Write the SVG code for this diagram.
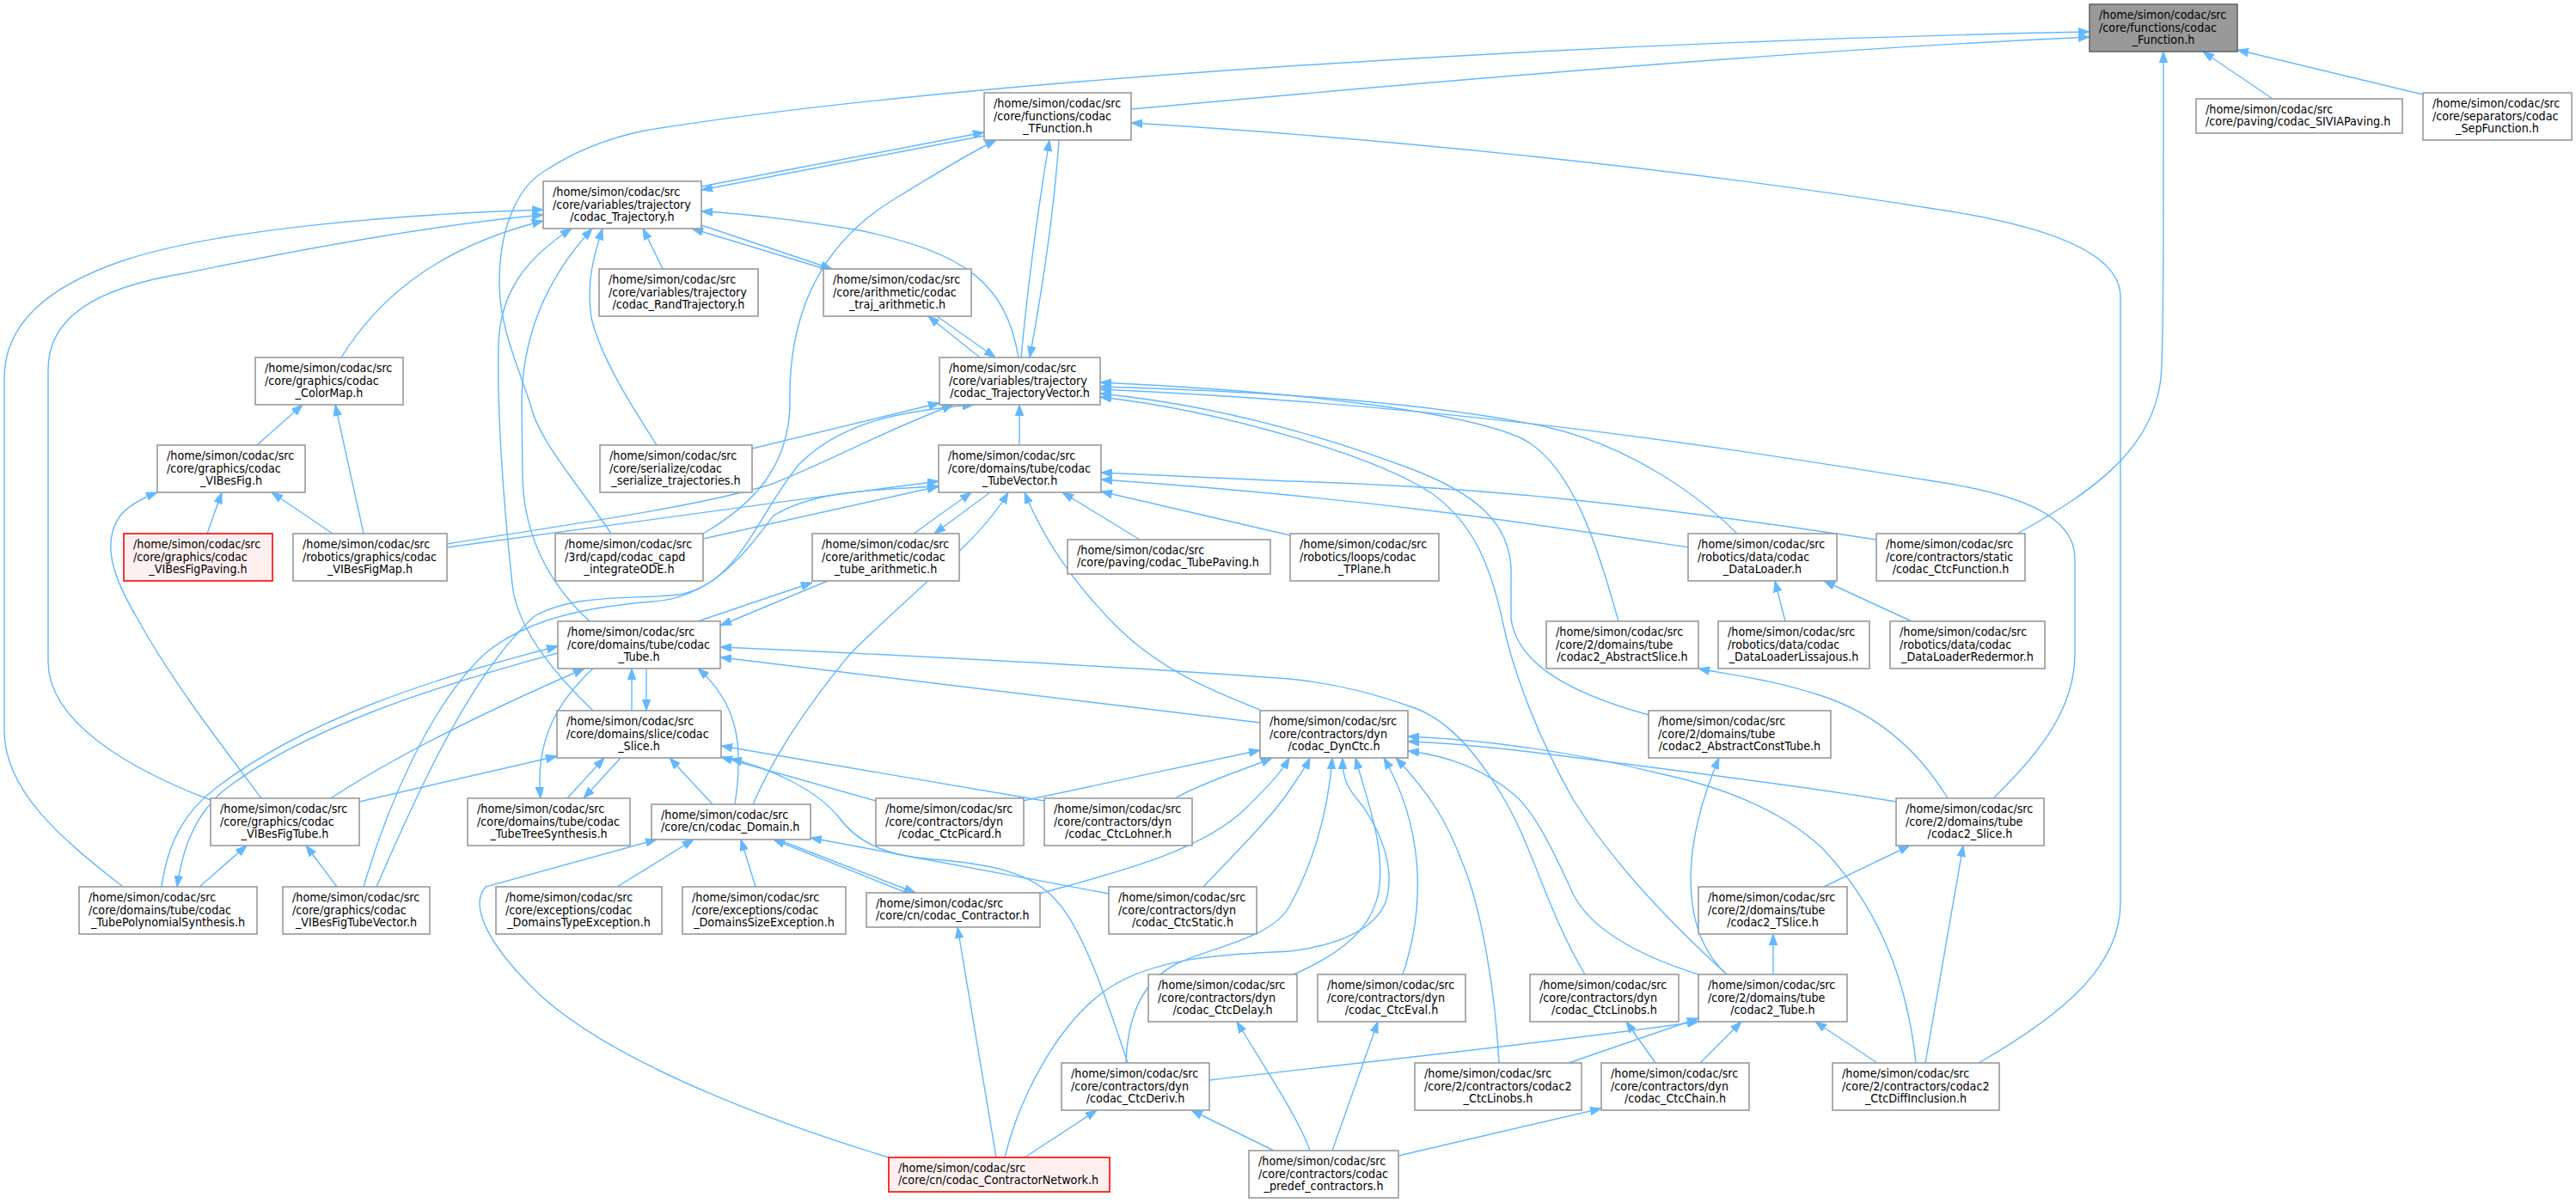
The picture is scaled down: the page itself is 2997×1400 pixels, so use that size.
<svg xmlns="http://www.w3.org/2000/svg" width="2997" height="1400" viewBox="0 0 2997 1400">
<defs>
<marker id="a" viewBox="0 0 13 10" refX="13" refY="5" markerWidth="13" markerHeight="10" markerUnits="userSpaceOnUse" orient="auto">
<path d="M0,0.3 L13,5 L0,9.7 z" fill="#63b8ff" stroke="#63b8ff" stroke-width="1"/>
</marker>
<style>
.n rect{fill:#fff;stroke:#999;stroke-width:1.6}
.r rect{fill:#fff0f0;stroke:#f00;stroke-width:1.6}
.g rect{fill:#999;stroke:#666;stroke-width:1.6}
text{font-family:"DejaVu Sans Condensed","DejaVu Sans",sans-serif;font-stretch:condensed;font-size:14.2px;fill:#000}
.m{text-anchor:middle}
#edges path{fill:none;stroke:#63b8ff;stroke-width:1.4;marker-end:url(#a)}
</style>
</defs>
<rect width="2997" height="1400" fill="#fff"/>
<g id="edges">
<path d="M711,621 C670,560 625,510 617,470 C600,420 582,380 581,333 C580,270 600,220 632,200 C670,175 710,160 750,152 C1100,95 1800,50 2431,37"/>
<path d="M1316,127 C1700,92 2100,58 2431,43"/>
<path d="M2644,115 L2563,60"/>
<path d="M2819,110 L2603,58"/>
<path d="M2347,621 C2430,575 2505,525 2514,440 C2517,410 2517,300 2517,60"/>
<path d="M816,217 L1145,154"/>
<path d="M1145,158 L816,221"/>
<path d="M1188,416 C1196,330 1208,240 1221,163"/>
<path d="M1232,163 C1226,250 1212,340 1198,416"/>
<path d="M818,621 C880,585 918,540 919,470 C917,380 945,290 1040,232 C1085,205 1120,182 1159,163"/>
<path d="M2302,1237 C2410,1175 2467,1120 2467,1050 L2467,345 C2467,300 2400,265 2250,243 C1950,195 1600,160 1316,143"/>
<path d="M143,1032 C70,975 5,920 5,850 L5,440 C5,380 50,335 144,303 C250,268 450,250 632,244"/>
<path d="M245,931 C150,895 56,840 56,770 L56,430 C56,370 110,335 215,318 C350,290 500,262 632,250"/>
<path d="M397,416 C435,355 500,290 632,257"/>
<path d="M690,827 C630,770 600,720 596,680 C585,580 578,470 580,400 C582,340 612,300 665,266"/>
<path d="M686,723 C650,690 612,640 608,560 L607,470 C607,400 630,330 689,266"/>
<path d="M764,518 C740,480 700,420 688,370 C682,330 690,300 701,266"/>
<path d="M771,313 L748,266"/>
<path d="M960,313 L805,266"/>
<path d="M816,262 L968,313"/>
<path d="M1185,416 C1170,330 1125,295 1000,268 C920,255 860,248 816,246"/>
<path d="M1140,416 L1080,368"/>
<path d="M1090,368 L1158,416"/>
<path d="M1186,518 L1186,471"/>
<path d="M875,522 L1093,469"/>
<path d="M520,633 C650,612 800,592 893,565 C955,542 1020,505 1109,471"/>
<path d="M520,637 C700,612 900,585 1092,560"/>
<path d="M438,1032 C470,960 540,790 622,717 C670,690 740,698 790,692 C860,680 880,600 930,540 C980,490 1050,478 1133,471"/>
<path d="M423,1032 C450,940 500,820 565,760 C620,715 700,705 760,700 C830,695 870,640 900,600 C950,570 1020,570 1092,566"/>
<path d="M1883,723 C1860,640 1830,540 1770,510 C1700,478 1500,455 1280,445"/>
<path d="M2021,621 C1980,580 1900,520 1800,497 C1680,472 1500,456 1280,450"/>
<path d="M2319,929 C2380,870 2414,820 2414,760 L2414,650 C2414,600 2350,575 2250,560 C2000,520 1700,472 1280,453"/>
<path d="M1918,832 C1820,805 1765,770 1758,720 L1758,660 C1755,610 1720,575 1640,545 C1520,500 1400,470 1280,458"/>
<path d="M2009,1134 C1950,1080 1880,1010 1830,930 C1790,860 1760,780 1749,727 C1735,660 1715,610 1667,575 C1600,530 1420,478 1280,462"/>
<path d="M2183,628 C1900,585 1700,565 1500,560 C1400,556 1330,552 1281,550"/>
<path d="M1964,637 C1800,612 1600,580 1281,558"/>
<path d="M1501,623 L1281,572"/>
<path d="M1326,628 L1236,573"/>
<path d="M1063,621 L1130,573"/>
<path d="M1152,573 L1087,621"/>
<path d="M1466,826 C1400,800 1348,777 1300,730 C1250,680 1215,630 1192,573"/>
<path d="M876,936 C900,880 940,820 990,760 C1060,690 1140,630 1173,573"/>
<path d="M818,627 L1092,566"/>
<path d="M241,621 L258,573"/>
<path d="M387,621 L316,573"/>
<path d="M304,929 C260,870 200,793 160,720 C130,670 118,630 140,600 C150,588 165,580 183,573"/>
<path d="M299,518 L352,471"/>
<path d="M423,621 L390,471"/>
<path d="M188,1032 C195,980 215,945 250,918 C350,840 500,790 649,752"/>
<path d="M649,760 C500,800 350,850 260,920 C225,950 212,990 206,1032"/>
<path d="M385,929 C460,880 560,830 680,778"/>
<path d="M418,933 C480,918 560,900 648,880"/>
<path d="M232,1032 L287,984"/>
<path d="M392,1032 L356,984"/>
<path d="M690,778 C650,815 622,860 629,929"/>
<path d="M722,882 L679,929"/>
<path d="M660,929 L703,882"/>
<path d="M735,827 L735,778"/>
<path d="M752,778 L752,827"/>
<path d="M812,723 L945,678"/>
<path d="M963,676 L838,728"/>
<path d="M829,936 L779,882"/>
<path d="M855,936 C865,870 860,820 812,778"/>
<path d="M1019,932 L839,881"/>
<path d="M1215,932 L839,868"/>
<path d="M1312,1237 C1290,1170 1260,1080 1228,1047 C1200,1015 1150,1005 1085,1000 C1040,997 1000,985 975,950 C950,920 900,895 850,883"/>
<path d="M1466,841 L838,765"/>
<path d="M1844,1134 C1800,1060 1785,990 1750,930 C1715,870 1680,835 1643,823 C1580,800 1530,793 1500,790 C1300,775 1000,760 838,753"/>
<path d="M1976,1134 C1900,1110 1850,1080 1830,1040 C1805,985 1785,945 1762,925 C1730,898 1690,880 1638,874"/>
<path d="M2229,1237 C2220,1150 2190,1060 2120,987 C2070,940 2000,915 1930,900 C1850,880 1750,862 1638,857"/>
<path d="M2206,933 C2100,915 1900,890 1780,875 C1720,868 1680,864 1638,863"/>
<path d="M1190,932 L1466,873"/>
<path d="M1367,929 C1400,910 1450,895 1480,882"/>
<path d="M1209,1040 C1300,1015 1400,990 1450,940 C1475,915 1490,900 1500,882"/>
<path d="M1400,1032 C1440,990 1480,950 1500,920 C1510,905 1518,895 1524,882"/>
<path d="M1310,1237 C1312,1180 1330,1140 1372,1120 C1420,1100 1480,1090 1500,1055 C1525,1010 1545,950 1550,882"/>
<path d="M1169,1347 C1185,1280 1230,1190 1290,1150 C1350,1110 1450,1110 1500,1107 C1560,1100 1600,1080 1612,1050 C1625,1010 1605,960 1575,925 C1565,912 1562,900 1562,882"/>
<path d="M1505,1134 C1560,1110 1600,1080 1605,1030 C1610,980 1590,930 1577,882"/>
<path d="M1632,1134 C1660,1050 1655,960 1610,882"/>
<path d="M1744,1237 C1740,1160 1725,1060 1701,1003 C1685,960 1665,925 1624,882"/>
<path d="M1159,1347 L1114,1079"/>
<path d="M1192,1347 L1276,1292"/>
<path d="M1037,1348 C880,1300 700,1230 620,1150 C570,1100 545,1055 565,1032 L764,977"/>
<path d="M718,1032 L807,977"/>
<path d="M879,1032 L862,977"/>
<path d="M1055,1039 L900,977"/>
<path d="M905,977 L1065,1039"/>
<path d="M1290,1040 L943,975"/>
<path d="M1524,1339 C1510,1300 1470,1240 1439,1189"/>
<path d="M1550,1339 L1603,1189"/>
<path d="M1482,1339 L1386,1292"/>
<path d="M1627,1345 L1863,1290"/>
<path d="M1407,1257 C1550,1240 1750,1220 1976,1189"/>
<path d="M1825,1237 L1976,1185"/>
<path d="M1978,1237 L2026,1189"/>
<path d="M1926,1237 L1892,1189"/>
<path d="M2184,1237 L2112,1189"/>
<path d="M2240,1237 L2284,984"/>
<path d="M2063,1134 L2063,1087"/>
<path d="M2122,1032 L2222,984"/>
<path d="M2009,1134 C1960,1090 1950,1000 2000,882"/>
<path d="M2266,929 C2230,870 2180,830 2120,810 C2060,790 2010,785 1976,778"/>
<path d="M2077,723 L2065,676"/>
<path d="M2224,723 L2122,676"/>
</g>
<g id="n_F" class="g"><rect x="2431" y="5" width="172" height="55"/><text x="2442" y="21.8">/home/simon/codac/src</text><text x="2442" y="36.5">/core/functions/codac</text><text class="m" x="2517" y="51.2">_Function.h</text></g>
<g id="n_TF" class="n"><rect x="1145" y="108" width="171" height="55"/><text x="1156" y="124.8">/home/simon/codac/src</text><text x="1156" y="139.5">/core/functions/codac</text><text class="m" x="1230.5" y="154.2">_TFunction.h</text></g>
<g id="n_SIV" class="n"><rect x="2555" y="115" width="240" height="40"/><text x="2566" y="131.5">/home/simon/codac/src</text><text x="2566" y="146.2">/core/paving/codac_SIVIAPaving.h</text></g>
<g id="n_SEP" class="n"><rect x="2819" y="108" width="173" height="55"/><text x="2830" y="124.8">/home/simon/codac/src</text><text x="2830" y="139.5">/core/separators/codac</text><text class="m" x="2905.5" y="154.2">_SepFunction.h</text></g>
<g id="n_TR" class="n"><rect x="632" y="211" width="184" height="55"/><text x="643" y="227.8">/home/simon/codac/src</text><text x="643" y="242.5">/core/variables/trajectory</text><text class="m" x="724" y="257.2">/codac_Trajectory.h</text></g>
<g id="n_RT" class="n"><rect x="697" y="313" width="185" height="55"/><text x="708" y="329.8">/home/simon/codac/src</text><text x="708" y="344.5">/core/variables/trajectory</text><text class="m" x="789.5" y="359.2">/codac_RandTrajectory.h</text></g>
<g id="n_TA" class="n"><rect x="958" y="313" width="172" height="55"/><text x="969" y="329.8">/home/simon/codac/src</text><text x="969" y="344.5">/core/arithmetic/codac</text><text class="m" x="1044" y="359.2">_traj_arithmetic.h</text></g>
<g id="n_TV" class="n"><rect x="1093" y="416" width="187" height="55"/><text x="1104" y="432.8">/home/simon/codac/src</text><text x="1104" y="447.5">/core/variables/trajectory</text><text class="m" x="1186.5" y="462.2">/codac_TrajectoryVector.h</text></g>
<g id="n_CM" class="n"><rect x="297" y="416" width="172" height="55"/><text x="308" y="432.8">/home/simon/codac/src</text><text x="308" y="447.5">/core/graphics/codac</text><text class="m" x="383" y="462.2">_ColorMap.h</text></g>
<g id="n_VF" class="n"><rect x="183" y="518" width="172" height="55"/><text x="194" y="534.8">/home/simon/codac/src</text><text x="194" y="549.5">/core/graphics/codac</text><text class="m" x="269" y="564.2">_VIBesFig.h</text></g>
<g id="n_SER" class="n"><rect x="698" y="518" width="177" height="55"/><text x="709" y="534.8">/home/simon/codac/src</text><text x="709" y="549.5">/core/serialize/codac</text><text class="m" x="786.5" y="564.2">_serialize_trajectories.h</text></g>
<g id="n_TUV" class="n"><rect x="1092" y="518" width="189" height="55"/><text x="1103" y="534.8">/home/simon/codac/src</text><text x="1103" y="549.5">/core/domains/tube/codac</text><text class="m" x="1186.5" y="564.2">_TubeVector.h</text></g>
<g id="n_VFP" class="r"><rect x="144" y="621" width="173" height="55"/><text x="155" y="637.8">/home/simon/codac/src</text><text x="155" y="652.5">/core/graphics/codac</text><text class="m" x="230.5" y="667.2">_VIBesFigPaving.h</text></g>
<g id="n_VFM" class="n"><rect x="341" y="621" width="179" height="55"/><text x="352" y="637.8">/home/simon/codac/src</text><text x="352" y="652.5">/robotics/graphics/codac</text><text class="m" x="430.5" y="667.2">_VIBesFigMap.h</text></g>
<g id="n_ODE" class="n"><rect x="646" y="621" width="172" height="55"/><text x="657" y="637.8">/home/simon/codac/src</text><text x="657" y="652.5">/3rd/capd/codac_capd</text><text class="m" x="732" y="667.2">_integrateODE.h</text></g>
<g id="n_TUA" class="n"><rect x="945" y="621" width="171" height="55"/><text x="956" y="637.8">/home/simon/codac/src</text><text x="956" y="652.5">/core/arithmetic/codac</text><text class="m" x="1030.5" y="667.2">_tube_arithmetic.h</text></g>
<g id="n_TP" class="n"><rect x="1242" y="628" width="236" height="40"/><text x="1253" y="644.5">/home/simon/codac/src</text><text x="1253" y="659.2">/core/paving/codac_TubePaving.h</text></g>
<g id="n_TPL" class="n"><rect x="1501" y="621" width="173" height="55"/><text x="1512" y="637.8">/home/simon/codac/src</text><text x="1512" y="652.5">/robotics/loops/codac</text><text class="m" x="1587.5" y="667.2">_TPlane.h</text></g>
<g id="n_DL" class="n"><rect x="1964" y="621" width="173" height="55"/><text x="1975" y="637.8">/home/simon/codac/src</text><text x="1975" y="652.5">/robotics/data/codac</text><text class="m" x="2050.5" y="667.2">_DataLoader.h</text></g>
<g id="n_CF" class="n"><rect x="2183" y="621" width="173" height="55"/><text x="2194" y="637.8">/home/simon/codac/src</text><text x="2194" y="652.5">/core/contractors/static</text><text class="m" x="2269.5" y="667.2">/codac_CtcFunction.h</text></g>
<g id="n_TUBE" class="n"><rect x="649" y="723" width="189" height="55"/><text x="660" y="739.8">/home/simon/codac/src</text><text x="660" y="754.5">/core/domains/tube/codac</text><text class="m" x="743.5" y="769.2">_Tube.h</text></g>
<g id="n_AS" class="n"><rect x="1799" y="723" width="177" height="55"/><text x="1810" y="739.8">/home/simon/codac/src</text><text x="1810" y="754.5">/core/2/domains/tube</text><text class="m" x="1887.5" y="769.2">/codac2_AbstractSlice.h</text></g>
<g id="n_DLL" class="n"><rect x="1999" y="723" width="176" height="55"/><text x="2010" y="739.8">/home/simon/codac/src</text><text x="2010" y="754.5">/robotics/data/codac</text><text class="m" x="2087" y="769.2">_DataLoaderLissajous.h</text></g>
<g id="n_DLR" class="n"><rect x="2199" y="723" width="180" height="55"/><text x="2210" y="739.8">/home/simon/codac/src</text><text x="2210" y="754.5">/robotics/data/codac</text><text class="m" x="2289" y="769.2">_DataLoaderRedermor.h</text></g>
<g id="n_SL" class="n"><rect x="648" y="827" width="191" height="55"/><text x="659" y="843.8">/home/simon/codac/src</text><text x="659" y="858.5">/core/domains/slice/codac</text><text class="m" x="743.5" y="873.2">_Slice.h</text></g>
<g id="n_DC" class="n"><rect x="1466" y="827" width="172" height="55"/><text x="1477" y="843.8">/home/simon/codac/src</text><text x="1477" y="858.5">/core/contractors/dyn</text><text class="m" x="1552" y="873.2">/codac_DynCtc.h</text></g>
<g id="n_ACT" class="n"><rect x="1918" y="827" width="212" height="55"/><text x="1929" y="843.8">/home/simon/codac/src</text><text x="1929" y="858.5">/core/2/domains/tube</text><text class="m" x="2024" y="873.2">/codac2_AbstractConstTube.h</text></g>
<g id="n_VFT" class="n"><rect x="245" y="929" width="173" height="55"/><text x="256" y="945.8">/home/simon/codac/src</text><text x="256" y="960.5">/core/graphics/codac</text><text class="m" x="331.5" y="975.2">_VIBesFigTube.h</text></g>
<g id="n_TTS" class="n"><rect x="544" y="929" width="189" height="55"/><text x="555" y="945.8">/home/simon/codac/src</text><text x="555" y="960.5">/core/domains/tube/codac</text><text class="m" x="638.5" y="975.2">_TubeTreeSynthesis.h</text></g>
<g id="n_DOM" class="n"><rect x="758" y="936" width="185" height="41"/><text x="769" y="952.5">/home/simon/codac/src</text><text x="769" y="967.2">/core/cn/codac_Domain.h</text></g>
<g id="n_PIC" class="n"><rect x="1019" y="929" width="172" height="55"/><text x="1030" y="945.8">/home/simon/codac/src</text><text x="1030" y="960.5">/core/contractors/dyn</text><text class="m" x="1105" y="975.2">/codac_CtcPicard.h</text></g>
<g id="n_LOH" class="n"><rect x="1215" y="929" width="172" height="55"/><text x="1226" y="945.8">/home/simon/codac/src</text><text x="1226" y="960.5">/core/contractors/dyn</text><text class="m" x="1301" y="975.2">/codac_CtcLohner.h</text></g>
<g id="n_S2" class="n"><rect x="2206" y="929" width="172" height="55"/><text x="2217" y="945.8">/home/simon/codac/src</text><text x="2217" y="960.5">/core/2/domains/tube</text><text class="m" x="2292" y="975.2">/codac2_Slice.h</text></g>
<g id="n_TPS" class="n"><rect x="92" y="1032" width="207" height="55"/><text x="103" y="1048.8">/home/simon/codac/src</text><text x="103" y="1063.5">/core/domains/tube/codac</text><text class="m" x="195.5" y="1078.2">_TubePolynomialSynthesis.h</text></g>
<g id="n_VFTV" class="n"><rect x="329" y="1032" width="171" height="55"/><text x="340" y="1048.8">/home/simon/codac/src</text><text x="340" y="1063.5">/core/graphics/codac</text><text class="m" x="414.5" y="1078.2">_VIBesFigTubeVector.h</text></g>
<g id="n_DTE" class="n"><rect x="577" y="1032" width="193" height="55"/><text x="588" y="1048.8">/home/simon/codac/src</text><text x="588" y="1063.5">/core/exceptions/codac</text><text class="m" x="673.5" y="1078.2">_DomainsTypeException.h</text></g>
<g id="n_DSE" class="n"><rect x="794" y="1032" width="190" height="55"/><text x="805" y="1048.8">/home/simon/codac/src</text><text x="805" y="1063.5">/core/exceptions/codac</text><text class="m" x="889" y="1078.2">_DomainsSizeException.h</text></g>
<g id="n_CTR" class="n"><rect x="1008" y="1039" width="202" height="40"/><text x="1019" y="1055.5">/home/simon/codac/src</text><text x="1019" y="1070.2">/core/cn/codac_Contractor.h</text></g>
<g id="n_CST" class="n"><rect x="1290" y="1032" width="172" height="55"/><text x="1301" y="1048.8">/home/simon/codac/src</text><text x="1301" y="1063.5">/core/contractors/dyn</text><text class="m" x="1376" y="1078.2">/codac_CtcStatic.h</text></g>
<g id="n_TS2" class="n"><rect x="1976" y="1032" width="173" height="55"/><text x="1987" y="1048.8">/home/simon/codac/src</text><text x="1987" y="1063.5">/core/2/domains/tube</text><text class="m" x="2062.5" y="1078.2">/codac2_TSlice.h</text></g>
<g id="n_DEL" class="n"><rect x="1336" y="1134" width="173" height="55"/><text x="1347" y="1150.8">/home/simon/codac/src</text><text x="1347" y="1165.5">/core/contractors/dyn</text><text class="m" x="1422.5" y="1180.2">/codac_CtcDelay.h</text></g>
<g id="n_EVAL" class="n"><rect x="1533" y="1134" width="172" height="55"/><text x="1544" y="1150.8">/home/simon/codac/src</text><text x="1544" y="1165.5">/core/contractors/dyn</text><text class="m" x="1619" y="1180.2">/codac_CtcEval.h</text></g>
<g id="n_LIN" class="n"><rect x="1780" y="1134" width="173" height="55"/><text x="1791" y="1150.8">/home/simon/codac/src</text><text x="1791" y="1165.5">/core/contractors/dyn</text><text class="m" x="1866.5" y="1180.2">/codac_CtcLinobs.h</text></g>
<g id="n_T2" class="n"><rect x="1976" y="1134" width="173" height="55"/><text x="1987" y="1150.8">/home/simon/codac/src</text><text x="1987" y="1165.5">/core/2/domains/tube</text><text class="m" x="2062.5" y="1180.2">/codac2_Tube.h</text></g>
<g id="n_DER" class="n"><rect x="1235" y="1237" width="172" height="55"/><text x="1246" y="1253.8">/home/simon/codac/src</text><text x="1246" y="1268.5">/core/contractors/dyn</text><text class="m" x="1321" y="1283.2">/codac_CtcDeriv.h</text></g>
<g id="n_LIN2" class="n"><rect x="1646" y="1237" width="194" height="55"/><text x="1657" y="1253.8">/home/simon/codac/src</text><text x="1657" y="1268.5">/core/2/contractors/codac2</text><text class="m" x="1743" y="1283.2">_CtcLinobs.h</text></g>
<g id="n_CH" class="n"><rect x="1863" y="1237" width="172" height="55"/><text x="1874" y="1253.8">/home/simon/codac/src</text><text x="1874" y="1268.5">/core/contractors/dyn</text><text class="m" x="1949" y="1283.2">/codac_CtcChain.h</text></g>
<g id="n_DI" class="n"><rect x="2132" y="1237" width="194" height="55"/><text x="2143" y="1253.8">/home/simon/codac/src</text><text x="2143" y="1268.5">/core/2/contractors/codac2</text><text class="m" x="2229" y="1283.2">_CtcDiffInclusion.h</text></g>
<g id="n_CN" class="r"><rect x="1034" y="1347" width="257" height="40"/><text x="1045" y="1363.5">/home/simon/codac/src</text><text x="1045" y="1378.2">/core/cn/codac_ContractorNetwork.h</text></g>
<g id="n_PRE" class="n"><rect x="1453" y="1339" width="174" height="55"/><text x="1464" y="1355.8">/home/simon/codac/src</text><text x="1464" y="1370.5">/core/contractors/codac</text><text class="m" x="1540" y="1385.2">_predef_contractors.h</text></g>
</svg>
